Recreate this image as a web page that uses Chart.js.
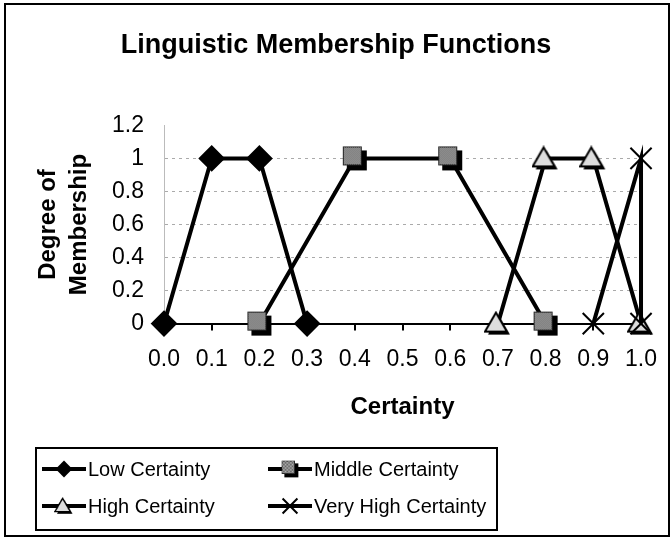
<!DOCTYPE html>
<html>
<head>
<meta charset="utf-8">
<script src="https://cdn.jsdelivr.net/npm/chart.js@4"></script>
<style>
  body { margin: 0; background: #fff; }
  #wrap { position: relative; width: 672px; height: 538px; }
  #frame { position: absolute; left: 4px; top: 3px; width: 666px; height: 534px;
           border: 2px solid #000; box-sizing: border-box; pointer-events: none; }
</style>
</head>
<body>
<div id="wrap">
  <canvas id="chart" width="672" height="538"></canvas>
  <div id="frame"></div>
</div>
<script>
// data
const lowX = [0.0, 0.1, 0.2, 0.3];
const lowY = [0, 1, 1, 0];
const midX = [0.2, 0.4, 0.6, 0.8];
const midY = [0, 1, 1, 0];
const highX = [0.7, 0.8, 0.9, 1.0];
const highY = [0, 1, 1, 0];
const veryHighX = [0.9, 1.0, 1.0];
const veryHighY = [0, 1, 0];

const seriesNames = ["Low Certainty", "Middle Certainty", "High Certainty", "Very High Certainty"];
const xTickLabels = ["0.0", "0.1", "0.2", "0.3", "0.4", "0.5", "0.6", "0.7", "0.8", "0.9", "1.0"];
const yTickLabels = ["0", "0.2", "0.4", "0.6", "0.8", "1", "1.2"];

const FONT = "'Liberation Sans', Arial, sans-serif";

const toPoints = (xs, ys) => xs.map((x, i) => ({ x: x, y: ys[i] }));

// gray dithered square with a black drop shadow (excel look)
function makeSquare() {
  const c = document.createElement("canvas");
  c.width = 26; c.height = 26;
  const g = c.getContext("2d");
  g.fillStyle = "#000";
  g.fillRect(5, 5, 20, 20);
  for (let i = 0; i < 19; i++) {
    for (let j = 0; j < 19; j++) {
      g.fillStyle = (i + j) % 2 ? "#555" : "#bbb";
      g.fillRect(1 + i, 1 + j, 1, 1);
    }
  }
  g.strokeStyle = "#222";
  g.lineWidth = 1;
  g.strokeRect(1.5, 1.5, 18, 18);
  return c;
}

function makeTriangle() {
  const c = document.createElement("canvas");
  c.width = 28; c.height = 26;
  const g = c.getContext("2d");
  const tri = (dx, dy) => {
    g.beginPath();
    g.moveTo(12 + dx, 2 + dy);
    g.lineTo(23 + dx, 21 + dy);
    g.lineTo(1 + dx, 21 + dy);
    g.closePath();
  };
  g.fillStyle = "#000";
  tri(3, 3); g.fill();
  tri(0, 0);
  g.fillStyle = "#ddd"; g.fill();
  g.lineWidth = 2; g.strokeStyle = "#000"; g.stroke();
  return c;
}

const squareImg = makeSquare();
const triangleImg = makeTriangle();

function drawMarker(ctx, ds, x, y, scale) {
  const st = ds.pointStyle;
  ctx.save();
  if (st instanceof HTMLCanvasElement) {
    const w = st.width * scale, h = st.height * scale;
    ctx.drawImage(st, x - w / 2, y - h / 2, w, h);
  } else if (st === "rectRot") {
    const r = ds.pointRadius * scale;
    ctx.fillStyle = "#000";
    ctx.beginPath();
    ctx.moveTo(x, y - r); ctx.lineTo(x + r, y); ctx.lineTo(x, y + r); ctx.lineTo(x - r, y);
    ctx.closePath(); ctx.fill();
  } else if (st === "crossRot") {
    const r = ds.pointRadius * scale * Math.SQRT1_2;
    ctx.strokeStyle = "#000"; ctx.lineWidth = 2;
    ctx.beginPath();
    ctx.moveTo(x - r, y - r); ctx.lineTo(x + r, y + r);
    ctx.moveTo(x + r, y - r); ctx.lineTo(x - r, y + r);
    ctx.stroke();
  }
  ctx.restore();
}

// legend in a box, two columns
const boxLegend = {
  id: "boxLegend",
  afterDraw(chart) {
    const ctx = chart.ctx;
    ctx.save();
    ctx.strokeStyle = "#000";
    ctx.lineWidth = 2;
    ctx.strokeRect(36, 448, 461, 82);
    const cols = [42, 268];
    const rows = [469, 506];
    chart.data.datasets.forEach((ds, i) => {
      const x = cols[i % 2], y = rows[Math.floor(i / 2)];
      ctx.beginPath();
      ctx.moveTo(x, y); ctx.lineTo(x + 44, y);
      ctx.lineWidth = 4; ctx.strokeStyle = "#000"; ctx.stroke();
      drawMarker(ctx, ds, x + 22, y, 0.7);
      ctx.fillStyle = "#000";
      ctx.font = "20px " + FONT;
      ctx.textBaseline = "middle";
      ctx.fillText(ds.label, x + 46, y + 1);
    });
    ctx.restore();
  }
};

const styles = [
  { pointStyle: "rectRot", pointRadius: 12 },
  { pointStyle: squareImg, pointRadius: 11 },
  { pointStyle: triangleImg, pointRadius: 11 },
  { pointStyle: "crossRot", pointRadius: 15 }
];
const xs = [lowX, midX, highX, veryHighX];
const ys = [lowY, midY, highY, veryHighY];

const datasets = seriesNames.map((name, i) => ({
  label: name,
  data: toPoints(xs[i], ys[i]),
  showLine: true,
  borderColor: "#000",
  borderWidth: 4,
  backgroundColor: "#000",
  pointBackgroundColor: "#000",
  pointBorderColor: "#000",
  pointBorderWidth: 2,
  pointStyle: styles[i].pointStyle,
  pointRadius: styles[i].pointRadius,
  tension: 0,
  clip: false,
  order: 4 - i
}));

new Chart(document.getElementById("chart"), {
  type: "scatter",
  data: { datasets: datasets },
  plugins: [boxLegend],
  options: {
    responsive: false,
    animation: false,
    events: [],
    layout: { padding: { left: 30, right: 30, top: 0, bottom: 116 } },
    plugins: {
      legend: { display: false },
      tooltip: { enabled: false },
      title: {
        display: true,
        text: "Linguistic Membership Functions",
        color: "#000",
        font: { family: FONT, size: 27, weight: "bold" },
        padding: { top: 29, bottom: 64 }
      }
    },
    scales: {
      x: {
        type: "linear",
        min: 0,
        max: 1,
        ticks: {
          stepSize: 0.1,
          autoSkip: false,
          maxRotation: 0,
          callback: (v, i) => xTickLabels[i],
          color: "#000",
          font: { family: FONT, size: 23 },
          padding: 15
        },
        grid: { drawOnChartArea: false, drawTicks: true, tickLength: 7, color: "#000", lineWidth: 2 },
        border: { color: "#000", width: 2 },
        title: {
          display: true,
          text: "Certainty",
          color: "#000",
          font: { family: FONT, size: 24, weight: "bold" },
          padding: { top: 5, bottom: 0 }
        }
      },
      y: {
        min: 0,
        max: 1.2,
        afterFit: (scale) => { scale.width = 134; },
        ticks: {
          stepSize: 0.2,
          autoSkip: false,
          callback: (v, i) => yTickLabels[i],
          color: "#000",
          font: { family: FONT, size: 23 },
          padding: 20
        },
        grid: {
          drawTicks: false,
          lineWidth: 1,
          color: (c) => (c.index === 0 || c.index === 6) ? "rgba(0,0,0,0)" : "#aaa"
        },
        border: { color: "#bbb", width: 1, dash: [3, 4] },
        title: {
          display: true,
          text: ["Degree of", "Membership"],
          color: "#000",
          font: { family: FONT, size: 24, weight: "bold", lineHeight: 1.3 },
          padding: { top: 3, bottom: 0 }
        }
      }
    }
  }
});
</script>
</body>
</html>
